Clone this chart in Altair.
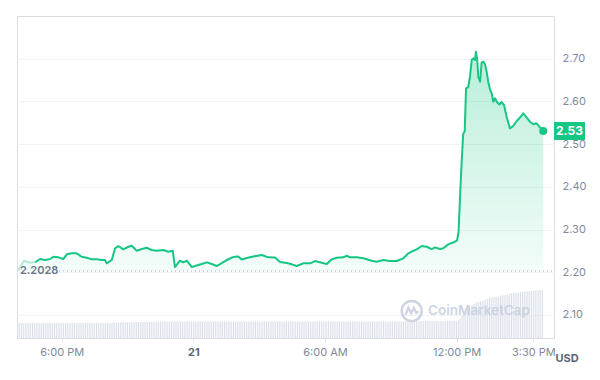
import altair as alt
import pandas as pd

GREEN = "#16c784"

# ---- price (hours counted from 00:00 on the 20th, USD) ----
prev_hours = [16.02, 16.28, 16.56, 16.83]
prev_price = [2.2052, 2.2269, 2.2222, 2.2246]

hours = [16.83, 17.01, 17.24, 17.47, 17.62, 17.85, 18.07, 18.23, 18.46, 18.68,
         18.91, 19.14, 19.37, 19.60, 19.82, 19.97, 20.05, 20.28, 20.43, 20.58,
         20.81, 21.04, 21.19, 21.42, 21.65, 21.87, 22.10, 22.33, 22.63, 22.86,
         23.06, 23.16, 23.39, 23.54, 23.70, 23.93, 24.15, 24.38, 24.61, 24.84,
         25.06, 25.29, 25.52, 25.75, 25.90, 26.05, 26.20, 26.43, 26.73, 27.12,
         27.42, 27.72, 27.95, 28.26, 28.48, 28.71, 29.01, 29.32, 29.55, 29.85,
         30.08, 30.31, 30.53, 30.84, 30.99, 31.14, 31.45, 31.75, 32.13, 32.36,
         32.66, 32.96, 33.27, 33.57, 33.80, 34.03, 34.18, 34.41, 34.64, 34.86,
         35.02, 35.24, 35.39, 35.62, 35.84, 36.02, 36.09, 36.15, 36.23, 36.30,
         36.37, 36.43, 36.53, 36.61, 36.69, 36.76, 36.84, 36.88, 36.94, 36.99,
         37.07, 37.14, 37.22, 37.29, 37.37, 37.44, 37.52, 37.60, 37.67, 37.75,
         37.83, 37.95, 38.05, 38.16, 38.28, 38.43, 38.58, 38.74, 38.89, 39.04,
         39.19, 39.34, 39.50, 39.65, 39.80, 39.95]
price = [2.2246, 2.2309, 2.2286, 2.2309, 2.2363, 2.2349, 2.2309, 2.2419, 2.2443, 2.2443,
         2.2363, 2.2340, 2.2302, 2.2302, 2.2286, 2.2286, 2.2208, 2.2286, 2.2560, 2.2614,
         2.2536, 2.2597, 2.2621, 2.2504, 2.2543, 2.2574, 2.2520, 2.2504, 2.2520, 2.2480,
         2.2504, 2.2122, 2.2269, 2.2232, 2.2269, 2.2122, 2.2157, 2.2192, 2.2232, 2.2192,
         2.2145, 2.2215, 2.2286, 2.2344, 2.2363, 2.2368, 2.2297, 2.2333, 2.2368, 2.2403,
         2.2349, 2.2344, 2.2239, 2.2215, 2.2185, 2.2145, 2.2208, 2.2208, 2.2262, 2.2222,
         2.2192, 2.2302, 2.2340, 2.2349, 2.2386, 2.2349, 2.2349, 2.2326, 2.2269, 2.2246,
         2.2286, 2.2262, 2.2262, 2.2326, 2.2443, 2.2504, 2.2536, 2.2614, 2.2597, 2.2543,
         2.2583, 2.2543, 2.2560, 2.2653, 2.2696, 2.2742, 2.2941, 2.3691, 2.4581, 2.5237,
         2.5300, 2.6307, 2.6337, 2.6578, 2.6970, 2.7009, 2.6970, 2.7164, 2.6970, 2.6571,
         2.6461, 2.6911, 2.6930, 2.6876, 2.6696, 2.6461, 2.6290, 2.6190, 2.5993, 2.6073,
         2.5993, 2.5927, 2.5986, 2.5916, 2.5642, 2.5370, 2.5424, 2.5541, 2.5623, 2.5721,
         2.5628, 2.5525, 2.5464, 2.5487, 2.5393, 2.5307]

open_price = 2.2028

# ---- volume bars, one every 5 minutes from 16:00 (one row per hour) ----
volume = [
    46.5, 46.5, 46.6, 46.5, 46.6, 46.5, 46.6, 46.6, 46.5, 46.6, 46.6, 46.5,
    46.6, 46.6, 46.6, 46.6, 46.6, 46.6, 46.6, 46.6, 46.6, 46.6, 46.6, 46.6,
    46.6, 46.6, 46.7, 46.6, 46.6, 46.7, 46.6, 46.6, 46.7, 46.6, 46.6, 46.7,
    46.7, 46.7, 46.7, 46.7, 46.7, 46.7, 46.7, 46.7, 46.7, 46.7, 46.7, 46.7,
    46.7, 46.7, 46.8, 46.8, 48.2, 48.3, 48.3, 48.4, 48.4, 48.5, 48.5, 48.6,
    48.8, 48.9, 49.0, 49.2, 49.4, 49.5, 49.6, 49.7, 49.8, 49.9, 50.0, 50.1,
    50.4, 50.6, 50.8, 51.0, 51.1, 51.2, 51.2, 51.2, 51.3, 51.3, 51.3, 51.3,
    51.3, 51.3, 51.3, 51.3, 51.3, 51.3, 51.3, 51.3, 51.3, 51.3, 51.3, 51.3,
    51.3, 51.3, 51.3, 51.3, 51.3, 51.3, 51.3, 51.3, 51.3, 51.3, 51.3, 51.3,
    51.3, 51.3, 51.3, 51.3, 51.3, 51.3, 51.3, 51.3, 51.3, 51.3, 51.3, 51.3,
    51.3, 51.3, 51.3, 51.3, 51.3, 51.3, 51.3, 51.3, 51.3, 51.3, 51.3, 51.3,
    51.3, 51.3, 51.3, 51.3, 51.3, 51.3, 51.3, 51.3, 51.3, 51.3, 51.3, 51.3,
    51.3, 51.3, 51.3, 51.3, 51.3, 51.3, 51.3, 51.3, 51.3, 51.3, 51.3, 51.3,
    51.3, 51.3, 51.3, 51.3, 51.3, 51.3, 51.3, 51.3, 51.3, 51.3, 51.3, 51.3,
    51.3, 51.3, 51.3, 51.3, 51.3, 51.3, 51.3, 51.3, 51.3, 51.3, 51.3, 51.3,
    51.3, 51.3, 51.3, 51.3, 51.3, 51.3, 51.3, 51.3, 51.3, 51.3, 51.3, 51.3,
    51.3, 51.3, 51.3, 51.3, 51.3, 51.3, 51.3, 51.3, 51.3, 51.3, 51.3, 51.3,
    51.3, 51.3, 51.3, 51.3, 51.3, 51.3, 51.3, 51.3, 51.3, 51.3, 51.3, 51.3,
    51.5, 51.6, 51.7, 51.8, 51.9, 52.0, 52.6, 52.7, 52.8, 52.8, 52.8, 52.9,
    52.9, 52.9, 52.9, 53.0, 53.0, 53.0, 53.0, 53.0, 53.0, 53.1, 53.1, 53.1,
    53.2, 55.9, 60.0, 70.0, 80.0, 88.0, 94.0, 98.0, 101.0, 104.0, 107.0, 110.0,
    111.5, 113.0, 115.0, 117.0, 120.0, 122.0, 124.5, 126.0, 127.0, 128.0, 129.0, 130.0,
    131.0, 132.0, 133.0, 134.5, 136.0, 137.0, 138.5, 140.0, 140.5, 141.0, 141.8, 142.5,
    143.0, 143.8, 144.5, 145.2, 145.8, 146.4, 147.0, 147.5, 148.0, 148.4, 148.8, 149.0,
]
vol_hours = [16 + i / 12 for i in range(len(volume))]

x_ticks = [18, 24, 30, 36, 39.5]
y_ticks = [2.10, 2.20, 2.30, 2.40, 2.50, 2.60, 2.70]

df_prev = pd.DataFrame({"t": prev_hours, "p": prev_price})
df_main = pd.DataFrame({"t": hours, "p": price})
df_all = pd.DataFrame({"t": prev_hours[:-1] + hours, "p": prev_price[:-1] + price,
                       "base": open_price})
df_vol = pd.DataFrame({"t": vol_hours, "v": volume})
df_last = pd.DataFrame({"t": [hours[-1]], "p": [price[-1]]})
df_open = pd.DataFrame({"p": [open_price]})
df_one = pd.DataFrame({"a": [0]})

xs = alt.Scale(domain=[15.96, 40.44], nice=False, zero=False, padding=0)
ys = alt.Scale(domain=[2.046, 2.80], nice=False, zero=False)

label_expr = ("datum.value == 24 ? '21' : "
              "((floor(datum.value) % 12 == 0) ? 12 : floor(datum.value) % 12) + ':' + "
              "((datum.value % 1) == 0.5 ? '30' : '00') + ' ' + "
              "((datum.value % 24) < 12 ? 'AM' : 'PM')")

x_axis = alt.Axis(values=x_ticks, labelExpr=label_expr, grid=False, domain=False,
                  ticks=True, tickSize=4, tickColor="#e3e7ee", labelPadding=4,
                  labelFontSize=11, labelFont="Inter", title=None,
                  labelColor={"condition": {"test": "datum.value == 24", "value": "#58667e"},
                              "value": "#808a9d"},
                  labelFontWeight={"condition": {"test": "datum.value == 24", "value": "bold"},
                                   "value": "normal"})
y_axis = alt.Axis(orient="right", values=y_ticks, format=".2f", grid=True,
                  gridColor="#f1f3f6", domain=False, ticks=False, labelPadding=8,
                  labelFontSize=11, labelFont="Inter", labelColor="#808a9d", title=None)

X = alt.X("t:Q", scale=xs, axis=x_axis)
Y = alt.Y("p:Q", scale=ys, axis=y_axis)

vol_layer = alt.Chart(df_vol).mark_bar(width=1, color="#d9dee9").encode(
    x=X, y=alt.Y("v:Q", scale=alt.Scale(domain=[0, 1000]), axis=None))

wm_color = "#c9d0de"
wm_text = alt.Chart(df_one).mark_text(
    text="CoinMarketCap", align="left", baseline="middle", font="Inter",
    fontSize=13.5, fontWeight=600, color=wm_color, opacity=0.9
).encode(x=alt.value(411), y=alt.value(295))
wm_ring = alt.Chart(df_one).mark_point(
    shape="circle", size=400, filled=False, strokeWidth=2.5, color=wm_color, opacity=0.9
).encode(x=alt.value(394.7), y=alt.value(295))
wm_wave = alt.Chart(df_one).mark_point(
    shape="M-0.55,0.35L-0.3,-0.3L-0.05,0.2L0.2,-0.3L0.42,0.2L0.62,0.02",
    size=484, filled=False, strokeWidth=2.2, color=wm_color, opacity=0.9
).encode(x=alt.value(394.7), y=alt.value(295))

area = alt.Chart(df_all).mark_area(
    interpolate="linear",
    color=alt.Gradient(gradient="linear",
                       stops=[alt.GradientStop(color="rgba(22,199,132,0.30)", offset=0),
                              alt.GradientStop(color="rgba(22,199,132,0.05)", offset=1)],
                       x1=1, x2=1, y1=0, y2=1)
).encode(x=X, y=Y, y2="base:Q")

base_rule = alt.Chart(df_open).mark_rule(
    strokeDash=[1, 3], color="#a3acbf", strokeWidth=1
).encode(y=Y, x=alt.value(42), x2=alt.value(537))

base_label = alt.Chart(df_open).mark_text(
    align="left", baseline="middle", font="Inter", fontSize=11, fontWeight=600,
    color="#6b7489"
).encode(y=Y, x=alt.value(3), text=alt.Text("p:Q", format=".4f"))

prev_line = alt.Chart(df_prev).mark_line(
    color="#b5ead4", strokeWidth=2, strokeJoin="round", strokeCap="round"
).encode(x=X, y=Y)

main_line = alt.Chart(df_main).mark_line(
    color=GREEN, strokeWidth=2, strokeJoin="round", strokeCap="round"
).encode(x=X, y=Y)

end_dot = alt.Chart(df_last).mark_point(
    shape="circle", size=64, filled=True, color=GREEN, opacity=1
).encode(x=X, y=Y)

tag = alt.Chart(df_last).mark_point(
    shape="M-1,-0.58L1,-0.58L1,0.58L-1,0.58Z", size=961, filled=True,
    color=GREEN, opacity=1
).encode(x=alt.value(552.5), y=Y)

tag_text = alt.Chart(df_last).mark_text(
    color="white", font="Inter", fontSize=12, fontWeight="bold",
    align="center", baseline="middle"
).encode(x=alt.value(552.5), y=Y, text=alt.Text("p:Q", format=".2f"))

usd = alt.Chart(df_one).mark_text(
    text="USD", font="Inter", fontSize=11, fontWeight="bold", color="#58667e",
    align="center", baseline="middle"
).encode(x=alt.value(550), y=alt.value(343))

price_layers = alt.layer(area, base_rule, prev_line, main_line, end_dot,
                         base_label, tag, tag_text, usd)
wm = alt.layer(wm_text, wm_ring, wm_wave)

chart = alt.layer(vol_layer, wm, price_layers).resolve_scale(
    y="independent"
).properties(
    width=537, height=322,
    padding={"left": 9, "top": 8, "right": 38, "bottom": 34},
    autosize="none",
).configure_view(stroke="#eef1f5", strokeWidth=1).configure(background="white")

chart.save("out.html", embed_options={"renderer": "svg", "actions": False})
